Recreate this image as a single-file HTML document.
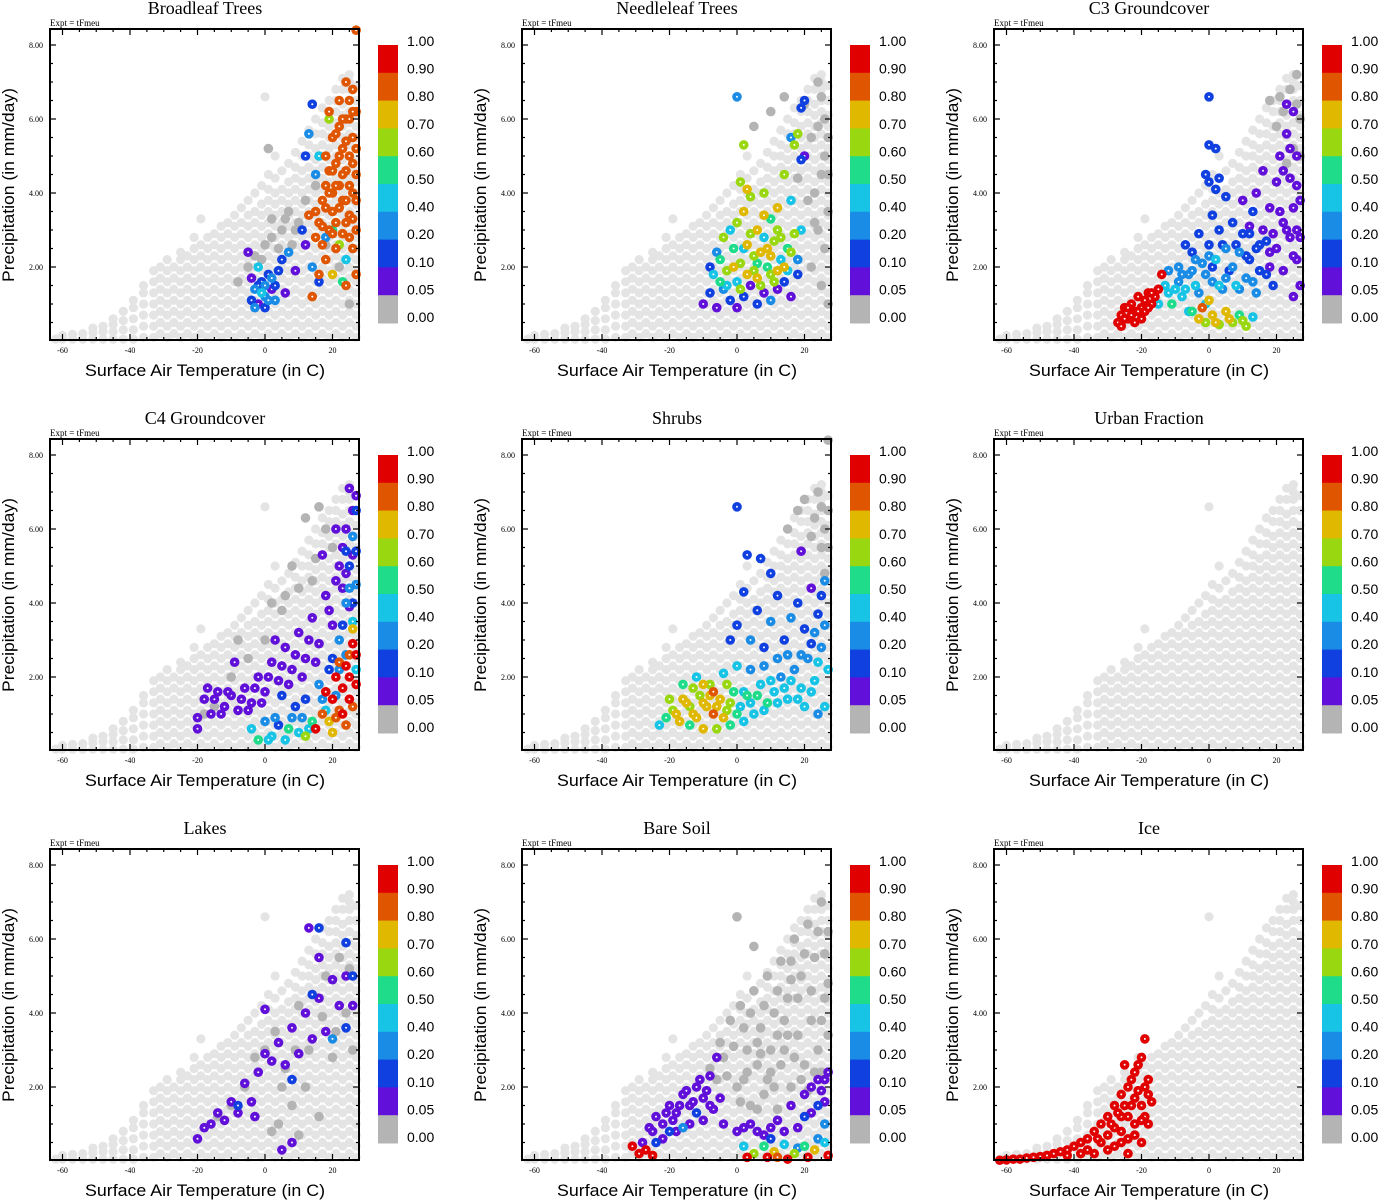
<!DOCTYPE html>
<html><head><meta charset="utf-8"><style>
html,body{margin:0;padding:0;background:#fff;}
svg{display:block;}
</style></head><body>
<svg id="chart" width="1378" height="1200" xmlns="http://www.w3.org/2000/svg"></svg>
<script>
const panelTitles=["Broadleaf Trees","Needleleaf Trees","C3 Groundcover","C4 Groundcover","Shrubs","Urban Fraction","Lakes","Bare Soil","Ice"];
const xTicks=[-60,-40,-20,0,20];
const yTicks=[2,4,6,8];
const yTickLabels=["2.00","4.00","6.00","8.00"];
const cbLabels=["1.00","0.90","0.80","0.70","0.60","0.50","0.40","0.20","0.10","0.05","0.00"];
const cbColors=["#e00000","#e05500","#e0b800","#99d810","#1fdc8a","#18c4e6","#1a8ce6","#1040e0","#6010d8","#b4b4b4"];
const binEdges=[0.05,0.1,0.2,0.4,0.5,0.6,0.7,0.8,0.9];
const bgCols=[
[-62,[0.05]],[-60,[0.05,0.15]],[-57,[0.05,0.18]],[-54,[0.05,0.2]],[-51,[0.05,0.22,0.35]],[-48,[0.05,0.25,0.4]],
[-45,[0.05,0.25,0.45,0.6]],[-42,[0.05,0.3,0.55,0.8]],[-39,[0.05,0.3,0.6,0.9,1.1]],[-36,[0.1,0.4,0.7,1.0,1.3,1.5]],
[-33,[0.1,0.4,0.7,1.0,1.3,1.6,1.9]],[-31,[0.2,0.5,0.8,1.1,1.4,1.7,2.0]],[-29,[0.1,0.4,0.7,1.0,1.3,1.6,1.9,2.2]],
[-27,[0.2,0.5,0.8,1.1,1.4,1.7,2.0]],[-25,[0.1,0.4,0.7,1.0,1.3,1.6,1.9,2.2,2.4]],[-23,[0.2,0.5,0.8,1.1,1.4,1.7,2.0,2.3]],
[-21,[0.1,0.4,0.7,1.0,1.3,1.6,1.9,2.2,2.5,2.8]],[-19,[0.2,0.5,0.8,1.1,1.4,1.7,2.0,2.3,2.6,3.3]],
[-17,[0.1,0.4,0.7,1.0,1.3,1.6,1.9,2.2,2.5,2.8]],[-15,[0.2,0.5,0.8,1.1,1.4,1.7,2.0,2.3,2.6,2.9]],
[-13,[0.1,0.4,0.7,1.0,1.3,1.6,1.9,2.2,2.5,2.8,3.1]],[-11,[0.2,0.5,0.8,1.1,1.4,1.7,2.0,2.3,2.6,2.9,3.2]],
[-9,[0.1,0.4,0.7,1.0,1.3,1.6,1.9,2.2,2.5,2.8,3.1,3.4]],[-7,[0.2,0.5,0.8,1.1,1.4,1.7,2.0,2.3,2.6,2.9,3.2,3.6]],
[-5,[0.1,0.4,0.7,1.0,1.3,1.6,1.9,2.2,2.5,2.8,3.1,3.4,3.8]],[-3,[0.2,0.5,0.8,1.1,1.4,1.7,2.0,2.3,2.6,2.9,3.2,3.5,4.0]],
[-1,[0.1,0.4,0.7,1.0,1.3,1.6,1.9,2.2,2.5,2.8,3.1,3.4,3.7,4.2]],[0,[6.6]],
[1,[0.2,0.5,0.8,1.1,1.4,1.7,2.0,2.3,2.6,2.9,3.2,3.5,3.8,4.1,4.5]],
[3,[0.1,0.4,0.7,1.0,1.3,1.6,1.9,2.2,2.5,2.8,3.1,3.4,3.7,4.0,4.4,5.0]],
[5,[0.2,0.5,0.8,1.1,1.4,1.7,2.0,2.3,2.6,2.9,3.2,3.5,3.8,4.1,4.6]],
[7,[0.1,0.4,0.7,1.0,1.3,1.6,1.9,2.2,2.5,2.8,3.1,3.4,3.7,4.0,4.3,4.8]],
[9,[0.2,0.5,0.8,1.1,1.4,1.7,2.0,2.3,2.6,2.9,3.2,3.5,3.8,4.1,4.4,4.7,5.1]],
[11,[0.1,0.4,0.7,1.0,1.3,1.6,1.9,2.2,2.5,2.8,3.1,3.4,3.7,4.0,4.3,4.6,5.0,5.4]],
[13,[0.2,0.5,0.8,1.1,1.4,1.7,2.0,2.3,2.6,2.9,3.2,3.5,3.8,4.1,4.4,4.7,5.0,5.3,5.7]],
[15,[0.1,0.4,0.7,1.0,1.3,1.6,1.9,2.2,2.5,2.8,3.1,3.4,3.7,4.0,4.3,4.6,4.9,5.2,5.6,6.0]],
[17,[0.2,0.5,0.8,1.1,1.4,1.7,2.0,2.3,2.6,2.9,3.2,3.5,3.8,4.1,4.4,4.7,5.0,5.3,5.6,5.9,6.3]],
[19,[0.1,0.4,0.7,1.0,1.3,1.6,1.9,2.2,2.5,2.8,3.1,3.4,3.7,4.0,4.3,4.6,4.9,5.2,5.5,5.8,6.2,6.5]],
[21,[0.2,0.5,0.8,1.1,1.4,1.7,2.0,2.3,2.6,2.9,3.2,3.5,3.8,4.1,4.4,4.7,5.0,5.3,5.6,5.9,6.2,6.5,6.8]],
[23,[0.1,0.4,0.7,1.0,1.3,1.6,1.9,2.2,2.5,2.8,3.1,3.4,3.7,4.0,4.3,4.6,4.9,5.2,5.5,5.8,6.1,6.4,6.8,7.1]],
[25,[0.2,0.5,0.8,1.1,1.4,1.7,2.0,2.3,2.6,2.9,3.2,3.5,3.8,4.1,4.4,4.7,5.0,5.3,5.6,5.9,6.2,6.5,6.8,7.0,7.2]],
[27,[0.1,0.4,0.7,1.0,1.3,1.6,1.9,2.2,2.5,2.8,3.1,3.4,3.7,4.0,4.3,4.6,4.9,5.2,5.5,5.8,6.1,6.5,6.9]]
];
const blPts=[[-5,2.0,0],[-3,2.3,0],[0,2.6,0],[2,2.8,0],[5,3.0,0],[7,3.5,0],[10,3.2,0],[12,3.8,0],[15,4.2,0],[1,5.2,0],[2,3.3,0],[-8,1.6,0],[8,2.6,0],[18,2.6,0],[22,2.0,0],[25,1.0,0],[4,2.5,0],[9,3.0,0],[6,3.3,0],[-1,2.2,0],
[-4,1.1,0.1],[-3,1.4,0.2],[-2,1.0,0.05],[-1,1.6,0.1],[0,1.2,0.2],[1,1.8,0.1],[2,1.4,0.05],[3,1.1,0.2],[4,1.9,0.1],[-4,1.7,0.05],[5,2.2,0.1],[7,2.4,0.2],[9,1.9,0.05],[-2,2.0,0.4],[0,0.9,0.1],[6,1.3,0.05],[-5,2.4,0.05],[-3,0.9,0.2],[-1,1.3,0.4],[1,1.1,0.2],[2,1.7,0.2],[3,1.5,0.1],[-2,1.5,0.1],[0,1.5,0.2],
[12,5.0,0.1],[14,6.4,0.1],[13,5.6,0.2],[16,5.0,0.4],[15,4.5,0.2],[11,3.0,0.1],[12,2.6,0.05],[14,2.0,0.2],[16,1.6,0.1],[18,2.8,0.2],[20,3.0,0.5],[22,2.6,0.6],[24,2.2,0.4],[20,1.8,0.7],[23,1.6,0.5],[19,6.0,0.6],
[14,1.2,0.8],[15,3.5,0.8],[16,3.2,0.8],[17,3.8,0.8],[18,4.2,0.8],[18,5.0,0.8],[19,4.6,0.8],[19,3.0,0.8],[20,3.5,0.8],[20,4.0,0.8],[20,5.5,0.8],[21,4.8,0.8],[21,3.2,0.8],[22,4.2,0.8],[22,5.8,0.8],[22,6.5,0.8],[23,3.8,0.8],[23,5.2,0.8],[24,4.6,0.8],[24,6.0,0.8],[24,7.0,0.8],[25,3.4,0.8],[25,5.0,0.8],[25,6.5,0.8],[26,4.0,0.8],[26,5.5,0.8],[26,6.8,0.8],[27,3.0,0.8],[27,4.5,0.8],[27,8.4,0.8],[17,2.6,0.8],[18,2.2,0.8],[21,2.5,0.8],[23,2.9,0.8],[15,2.8,0.8],[16,1.8,0.8],[26,2.5,0.8],[24,1.5,0.8],[27,1.8,0.8],[13,3.4,0.8],[19,6.2,0.8],[25,6.0,0.8],[20,2.9,0.8],[22,3.6,0.8],
[21,4.2,0.8],[23,4.5,0.8],[24,5.4,0.8],[25,4.2,0.8],[26,4.8,0.8],[27,5.2,0.8],[27,6.2,0.8],[26,3.3,0.8],[24,3.8,0.8],[23,6.0,0.8],[22,5.0,0.8],[21,5.6,0.8],[19,4.0,0.8],[18,3.6,0.8],[17,3.1,0.8],[20,4.6,0.8],[25,2.8,0.8],[26,6.2,0.8],[27,3.8,0.8],[24,3.2,0.8]];
const nlPts=[[5,5.8,0],[10,6.2,0],[14,6.6,0],[20,6.4,0],[22,5.5,0],[24,7.0,0],[26,6.0,0],[25,4.5,0],[23,4.0,0],[27,3.5,0],[26,2.5,0],[24,3.0,0],[20,5.0,0],[18,4.4,0],[27,5.5,0],[22,2.0,0],[25,1.5,0],[27,1.0,0],[26,5.0,0],[24,5.8,0],[25,6.6,0],[27,4.5,0],[23,3.2,0],[21,3.8,0],
[-10,1.0,0.05],[-8,1.3,0.1],[-6,0.9,0.05],[-4,1.4,0.2],[-2,1.1,0.1],[0,0.9,0.05],[2,1.2,0.1],[4,1.5,0.05],[6,1.0,0.1],[8,1.3,0.05],[10,1.1,0.2],[12,1.4,0.05],[14,1.6,0.1],[16,1.2,0.05],[18,1.8,0.1],[-7,1.8,0.4],[-5,2.2,0.5],[-3,1.9,0.6],[-1,2.5,0.5],[1,2.1,0.6],[3,2.6,0.7],[5,1.9,0.6],[7,2.4,0.7],[9,2.0,0.5],[11,2.7,0.6],[13,2.2,0.4],[15,2.5,0.5],[17,2.9,0.6],[19,3.0,0.4],[-4,2.8,0.6],[0,3.2,0.6],[2,3.5,0.7],[4,3.9,0.6],[6,3.0,0.7],[8,4.0,0.6],[10,3.3,0.5],[12,3.6,0.7],[14,4.5,0.6],[16,3.8,0.4],[18,2.2,0.2],[-6,2.4,0.2],[-8,2.0,0.1],[0,1.6,0.4],[6,1.7,0.7],[10,1.8,0.6],[14,2.0,0.7],[2,5.3,0.6],[3,4.1,0.7],[1,4.3,0.6],[0,6.6,0.2],[17,5.3,0.6],[18,5.6,0.6],[19,6.3,0.1],[20,6.5,0.1],[19,4.9,0.1],[20,5.0,0.05],[16,5.5,0.2],[-2,3.0,0.4],[8,2.8,0.4],[12,1.9,0.7],
[-3,1.5,0.4],[1,1.4,0.6],[3,1.8,0.7],[5,2.3,0.6],[7,1.5,0.6],[9,2.5,0.7],[11,1.6,0.6],[13,2.8,0.6],[15,1.9,0.4],[-1,2.0,0.7],[4,2.9,0.6],[8,3.4,0.7],[-5,1.6,0.5],[6,2.1,0.5],[10,2.3,0.7],[16,2.4,0.6],[2,2.5,0.4],[12,3.0,0.6]];
const c3Pts=[[18,6.5,0],[20,5.8,0],[22,6.2,0],[24,6.8,0],[26,7.2,0],[27,6.0,0],[25,5.2,0],[23,4.8,0],[21,6.6,0],[27,5.0,0],[26,6.4,0],
[-27,0.5,0.9],[-26,0.7,0.9],[-25,0.9,0.9],[-24,0.6,0.9],[-23,1.0,0.9],[-22,0.8,0.9],[-21,1.2,0.9],[-20,0.9,0.9],[-19,1.1,0.9],[-18,1.3,0.9],[-17,1.0,0.9],[-16,1.2,0.9],[-15,1.4,0.9],[-14,1.8,0.9],[-24,0.9,0.9],[-22,0.5,0.9],[-20,0.6,0.9],[-26,0.4,0.9],[-23,0.7,0.9],[-21,0.8,0.9],[-19,0.8,0.9],[-17,1.3,0.9],[-18,0.9,0.9],[-25,0.6,0.9],
[-15,1.0,0.4],[-13,1.5,0.4],[-12,1.9,0.2],[-10,1.4,0.4],[-9,2.0,0.2],[-8,1.2,0.4],[-6,1.8,0.2],[-5,2.4,0.1],[-4,1.5,0.4],[-2,2.1,0.2],[-1,1.0,0.4],[0,2.6,0.1],[1,1.6,0.2],[2,2.2,0.4],[3,3.0,0.1],[4,1.4,0.2],[5,2.5,0.2],[6,1.9,0.1],[7,3.2,0.1],[8,1.5,0.4],[9,2.4,0.2],[10,2.9,0.1],[11,1.7,0.2],[12,2.2,0.1],[13,3.5,0.1],[14,1.3,0.2],[15,2.6,0.1],[16,3.0,0.05],[17,1.8,0.1],[18,2.4,0.05],[19,1.5,0.1],[-7,2.6,0.1],[-3,2.9,0.1],[1,3.4,0.1],[5,3.9,0.1],[-11,1.0,0.5],[-6,0.8,0.4],
[-12,1.3,0.4],[-9,1.6,0.2],[-7,1.4,0.4],[-5,1.9,0.2],[-3,1.3,0.2],[-1,1.8,0.2],[1,2.0,0.1],[3,1.5,0.4],[5,1.7,0.2],[7,2.0,0.2],[9,1.4,0.2],[11,2.3,0.1],[13,1.6,0.2],[15,1.9,0.1],[17,2.7,0.1],[-4,2.2,0.2],[0,2.3,0.2],[4,2.6,0.1],[8,2.6,0.1],[12,2.9,0.1],[14,2.5,0.1],[-8,1.8,0.2],
[-5,0.8,0.5],[-3,0.6,0.7],[-1,0.5,0.6],[1,0.7,0.7],[3,0.45,0.6],[5,0.8,0.7],[7,0.5,0.6],[9,0.7,0.5],[11,0.4,0.6],[13,0.65,0.4],[-2,0.9,0.8],[0,1.1,0.7],[2,0.5,0.7],[6,0.6,0.7],[10,0.55,0.6],
[10,3.8,0.05],[12,3.1,0.05],[14,4.0,0.05],[16,4.6,0.05],[18,3.6,0.05],[20,4.3,0.05],[21,5.0,0.05],[22,3.2,0.05],[23,5.6,0.05],[24,4.4,0.05],[25,6.2,0.05],[26,5.0,0.05],[27,3.8,0.05],[20,2.5,0.05],[22,1.9,0.05],[24,2.8,0.05],[26,2.2,0.05],[27,1.5,0.05],[25,1.2,0.05],[23,6.4,0.05],
[21,3.5,0.05],[23,3.0,0.05],[25,3.6,0.05],[26,4.2,0.05],[24,5.2,0.05],[22,4.6,0.05],[19,2.9,0.05],[27,2.8,0.05],[26,3.0,0.05],[25,2.3,0.05],[18,2.0,0.05],
[0,6.6,0.1],[0,5.3,0.1],[2,5.2,0.1],[0,4.3,0.1],[2,4.1,0.1],[3,4.4,0.1],[-1,4.5,0.1]];
const c4Pts=[[-15,1.2,0],[-10,2.0,0],[-5,2.5,0],[0,3.0,0],[5,3.8,0],[10,4.4,0],[15,5.2,0],[18,6.0,0],[20,5.5,0],[-8,3.0,0],[2,4.0,0],[12,6.3,0],[8,5.0,0],[-18,1.0,0],[16,6.6,0],[14,4.6,0],[6,4.2,0],
[-20,0.9,0.05],[-18,1.4,0.05],[-16,1.0,0.05],[-14,1.6,0.05],[-12,1.2,0.05],[-10,1.5,0.05],[-8,1.1,0.05],[-6,1.7,0.05],[-4,1.3,0.05],[-2,2.0,0.05],[0,1.6,0.05],[2,2.4,0.05],[4,1.9,0.05],[6,2.8,0.05],[8,2.2,0.05],[10,3.2,0.05],[12,2.5,0.05],[14,3.6,0.05],[16,2.9,0.05],[18,4.2,0.05],[20,3.4,0.05],[22,5.0,0.05],[24,6.0,0.05],[25,7.1,0.05],[26,6.5,0.05],[23,4.4,0.05],[-20,0.6,0.05],[-17,1.7,0.05],[-9,2.4,0.05],[3,3.0,0.05],[17,5.3,0.05],[21,6.0,0.05],
[-15,1.4,0.05],[-13,1.0,0.05],[-11,1.6,0.05],[-7,1.4,0.05],[-5,1.1,0.05],[-3,1.7,0.05],[-1,1.3,0.05],[1,2.0,0.05],[5,2.3,0.05],[7,1.8,0.05],[9,2.6,0.05],[11,2.0,0.05],[13,3.0,0.05],[15,2.4,0.05],[19,3.8,0.05],[21,4.6,0.05],[23,5.5,0.05],[24,4.8,0.05],[26,5.3,0.05],[27,6.9,0.05],[25,3.9,0.05],
[0,0.8,0.2],[2,0.4,0.4],[4,0.7,0.1],[6,0.3,0.4],[8,0.9,0.2],[10,0.5,0.4],[12,1.4,0.1],[14,0.8,0.5],[16,1.8,0.2],[18,1.1,0.4],[20,2.5,0.1],[22,3.0,0.2],[24,4.0,0.2],[25,5.0,0.1],[26,3.5,0.4],[27,4.5,0.2],[26,5.8,0.2],[24,2.6,0.2],[27,2.2,0.4],[21,1.5,0.2],[-4,0.6,0.4],[-2,0.3,0.5],[5,1.5,0.1],[27,6.5,0.1],
[23,3.4,0.1],[25,4.4,0.2],[26,4.0,0.1],[27,5.4,0.1],[24,5.4,0.1],[22,2.2,0.2],[19,2.2,0.1],[17,1.4,0.2],[13,0.6,0.4],[9,1.2,0.1],[1,0.3,0.4],[3,0.9,0.2],[7,0.6,0.5],[11,0.9,0.2],
[15,0.6,0.9],[17,1.0,0.8],[18,1.6,0.9],[19,0.8,0.7],[20,1.4,0.9],[21,2.0,0.9],[22,1.1,0.8],[23,1.7,0.9],[24,2.3,0.9],[25,1.4,0.9],[26,2.9,0.9],[27,1.8,0.9],[24,0.7,0.8],[26,3.3,0.7],[22,2.4,0.8],[25,2.6,0.8],[20,0.5,0.7],[12,0.4,0.6],[23,1.0,0.9],[25,2.0,0.9],[26,1.2,0.8],[27,2.6,0.9],[21,0.9,0.8]];
const shPts=[[15,6.0,0],[18,6.5,0],[20,6.8,0],[22,5.8,0],[24,7.0,0],[25,5.5,0],[27,6.5,0],[26,4.8,0],[23,6.3,0],[27,8.4,0],[26,6.0,0],[25,6.6,0],[27,5.5,0],
[-23,0.7,0.4],[-21,0.9,0.5],[-19,1.1,0.6],[-17,0.8,0.7],[-15,1.3,0.7],[-13,1.0,0.7],[-11,1.5,0.6],[-9,1.2,0.7],[-7,1.0,0.8],[-5,1.4,0.7],[-3,1.1,0.6],[-1,1.6,0.5],[1,1.2,0.4],[3,1.5,0.5],[5,1.0,0.4],[7,1.8,0.4],[9,1.3,0.5],[11,1.6,0.4],[13,2.0,0.2],[15,1.4,0.4],[17,2.2,0.2],[19,1.7,0.4],[21,2.5,0.2],[23,1.9,0.4],[25,2.8,0.2],[27,2.2,0.4],[-20,1.4,0.6],[-16,1.8,0.5],[-12,2.0,0.4],[-8,1.8,0.6],[-4,2.1,0.4],[0,2.3,0.4],[-14,0.7,0.5],[-10,0.6,0.7],[-6,0.6,0.6],[-2,0.7,0.5],[2,0.8,0.4],[26,1.2,0.4],[24,1.0,0.2],[20,1.2,0.4],[-10,1.8,0.7],
[-18,1.0,0.7],[-16,1.4,0.7],[-14,1.2,0.6],[-12,0.9,0.7],[-10,1.3,0.7],[-8,1.5,0.7],[-6,1.2,0.7],[-4,0.9,0.7],[-2,1.3,0.6],[0,1.0,0.5],[2,1.6,0.4],[4,1.3,0.4],[6,1.5,0.5],[8,1.1,0.4],[10,1.9,0.4],[12,1.3,0.4],[14,1.7,0.4],[16,1.9,0.4],[18,1.4,0.4],[22,1.6,0.4],[24,2.4,0.4],[-13,1.7,0.6],[-7,1.6,0.8],[-3,1.8,0.6],
[-2,3.0,0.1],[0,3.4,0.1],[2,4.3,0.1],[4,3.0,0.2],[6,3.8,0.1],[8,2.8,0.1],[10,3.5,0.2],[12,4.2,0.1],[14,3.0,0.1],[16,3.6,0.2],[18,4.0,0.1],[20,3.3,0.1],[22,4.4,0.05],[24,3.7,0.1],[26,4.6,0.2],[0,6.6,0.1],[3,5.3,0.1],[7,5.2,0.1],[19,5.4,0.05],[10,4.8,0.1],[22,2.9,0.1],
[15,2.6,0.2],[19,2.6,0.2],[23,3.2,0.2],[26,3.4,0.2],[12,2.5,0.2],[8,2.3,0.2],[4,2.2,0.2],[25,4.2,0.1]];
const urPts=[];
const lkPts=[[-10,1.5,0],[-6,2.0,0],[-3,2.8,0],[0,3.0,0],[3,3.5,0],[6,2.5,0],[10,4.2,0],[14,4.5,0],[18,5.0,0],[22,5.5,0],[24,4.0,0],[26,3.0,0],[20,2.8,0],[12,2.0,0],[-14,1.2,0],[8,1.5,0],[16,1.2,0],[2,0.8,0],[5,2.0,0],[9,3.0,0],[13,3.0,0],[17,3.9,0],[21,3.5,0],[25,5.2,0],[4,1.0,0],[10,0.7,0],
[-20,0.6,0.05],[-18,0.9,0.05],[-16,1.0,0.05],[-14,1.3,0.05],[-12,1.1,0.05],[-10,1.6,0.05],[-8,1.3,0.05],[-6,2.1,0.05],[-4,1.6,0.05],[-2,2.4,0.05],[0,2.9,0.05],[2,2.7,0.05],[4,3.2,0.05],[6,2.6,0.05],[8,3.6,0.05],[10,2.9,0.05],[12,4.0,0.05],[14,3.3,0.05],[16,4.4,0.05],[18,3.5,0.05],[20,4.9,0.05],[22,4.2,0.05],[24,5.0,0.05],[13,6.3,0.05],[0,4.1,0.05],[-3,1.2,0.05],[5,0.3,0.05],[8,0.5,0.05],[16,5.5,0.05],[26,4.2,0.05],
[16,6.3,0.1],[24,5.9,0.1],[26,5.0,0.1],[14,4.5,0.1],[-8,1.5,0.1],[8,2.2,0.1],[20,3.3,0.2],[24,3.6,0.1]];
const bsPts=[[-8,2.5,0],[-5,3.2,0],[-2,3.8,0],[0,6.6,0],[1,4.2,0],[3,3.0,0],[5,4.6,0],[7,3.6,0],[9,5.0,0],[11,4.0,0],[13,5.4,0],[15,4.4,0],[17,6.0,0],[19,5.0,0],[21,6.4,0],[23,5.5,0],[25,7.0,0],[27,6.2,0],[2,2.2,0],[6,2.6,0],[10,2.4,0],[14,3.0,0],[18,3.4,0],[22,3.8,0],[26,4.4,0],[4,1.5,0],[8,1.8,0],[12,1.4,0],[16,2.0,0],[20,2.6,0],[24,3.0,0],[0,2.0,0],[5,5.8,0],[16,4.9,0],[12,3.4,0],
[-4,2.8,0],[-1,3.1,0],[2,3.6,0],[4,4.0,0],[6,3.2,0],[8,4.2,0],[10,3.0,0],[12,4.6,0],[14,3.8,0],[16,5.4,0],[18,4.4,0],[20,5.6,0],[22,4.6,0],[24,6.2,0],[26,5.6,0],[27,4.8,0],[25,3.8,0],[23,2.4,0],[21,1.9,0],[19,2.2,0],[17,2.8,0],[15,3.4,0],[13,2.6,0],[11,2.0,0],[9,2.2,0],[7,2.9,0],[3,2.4,0],[-3,2.3,0],[-6,2.2,0],[1,1.6,0],[6,1.4,0],[27,3.4,0],[25,2.4,0],
[-28,0.5,0.05],[-26,0.9,0.05],[-24,1.2,0.05],[-22,1.0,0.05],[-20,1.5,0.05],[-18,1.3,0.05],[-16,1.8,0.05],[-14,1.5,0.05],[-12,2.0,0.05],[-10,1.7,0.05],[-8,2.3,0.05],[-7,1.4,0.05],[-6,2.8,0.05],[-22,0.6,0.05],[-18,0.8,0.05],[-14,1.0,0.05],[-4,1.0,0.05],[0,0.8,0.05],[4,1.0,0.05],[8,0.7,0.05],[12,1.1,0.05],[16,1.5,0.05],[18,0.9,0.05],[20,1.8,0.05],[22,1.3,0.05],[24,2.2,0.05],[26,1.6,0.05],[27,2.4,0.05],[14,0.8,0.05],[-10,1.1,0.05],
[-25,0.8,0.05],[-21,1.3,0.05],[-17,1.5,0.05],[-13,1.6,0.05],[-11,2.2,0.05],[-9,1.9,0.05],[-5,1.7,0.05],[-8,1.5,0.05],[-15,1.9,0.05],[-19,1.1,0.05],[6,0.8,0.05],[10,0.9,0.05],[22,2.0,0.05],[25,1.9,0.05],[26,2.2,0.05],[2,0.9,0.05],
[-24,0.5,0.1],[-20,0.8,0.1],[-16,0.9,0.2],[20,1.2,0.1],[24,1.5,0.1],[26,1.0,0.2],[10,0.6,0.1],[-12,1.3,0.1],
[2,0.4,0.4],[5,0.2,0.6],[8,0.4,0.5],[11,0.25,0.7],[14,0.45,0.4],[17,0.2,0.6],[20,0.4,0.5],[23,0.3,0.7],[26,0.5,0.4],[3,0.1,0.9],[9,0.1,0.9],[15,0.05,0.9],[21,0.1,0.9],[27,0.15,0.9],[12,0.1,0.8],[18,0.35,0.2],[24,0.6,0.2],
[-31,0.4,0.9],[-29,0.2,0.9],[-27,0.3,0.9],[-25,0.15,0.9]];
const icPts=[[-62,0.02,0.9],[-60,0.03,0.9],[-58,0.05,0.9],[-56,0.05,0.9],[-54,0.08,0.9],[-52,0.1,0.9],[-50,0.12,0.9],[-48,0.15,0.9],[-46,0.2,0.9],[-44,0.25,0.9],[-42,0.3,0.9],[-40,0.4,0.9],[-38,0.5,0.9],[-36,0.6,0.9],[-34,0.8,0.9],[-32,1.0,0.9],[-30,1.2,0.9],[-28,1.5,0.9],[-26,1.8,0.9],[-24,2.0,0.9],[-22,2.4,0.9],[-20,2.8,0.9],[-19,3.3,0.9],[-18,2.2,0.9],[-20,1.5,0.9],[-22,1.0,0.9],[-24,0.6,0.9],[-26,0.5,0.9],[-28,0.4,0.9],[-30,0.3,0.9],[-34,0.2,0.9],[-38,0.2,0.9],[-26,1.2,0.9],[-23,1.5,0.9],[-21,1.9,0.9],[-19,1.2,0.9],[-17,1.6,0.9],[-24,0.2,0.9],[-20,0.5,0.9],[-28,0.9,0.9],[-32,0.5,0.9],[-36,0.3,0.9],[-42,0.15,0.9],[-25,2.6,0.9],
[-29,1.0,0.9],[-27,1.3,0.9],[-25,1.5,0.9],[-23,2.2,0.9],[-21,2.6,0.9],[-19,2.0,0.9],[-18,1.0,0.9],[-22,1.7,0.9],[-24,1.2,0.9],[-26,0.8,0.9],[-30,0.7,0.9],[-33,0.6,0.9],[-22,0.7,0.9],[-20,1.1,0.9],[-18,1.8,0.9]];
const panelPts=[blPts,nlPts,c3Pts,c4Pts,shPts,urPts,lkPts,bsPts,icPts];

const NS="http://www.w3.org/2000/svg";
const svg=document.getElementById('chart');
function mk(tag,attrs,parent,txt){const e=document.createElementNS(NS,tag);for(const k in attrs)e.setAttribute(k,attrs[k]);if(txt!==undefined)e.textContent=txt;parent.appendChild(e);return e;}
function colorFor(v){let b=0;for(let i=0;i<binEdges.length;i++){if(v>=binEdges[i]-1e-9)b=i+1;}return cbColors[9-b];}
const slug=s=>s.toLowerCase().replace(/[^a-z0-9]+/g,'-');

panelTitles.forEach((title,idx)=>{
  const ox=(idx%3)*472, oy=Math.floor(idx/3)*410;
  const xS=t=>ox+265+t*3.375;
  const yS=p=>oy+341-p*37;
  const g=mk('g',{},svg);
  
  
  const tt=mk('text',{x:ox+205,y:oy+14,'text-anchor':'middle','font-family':'Liberation Serif, serif','font-size':18},g,title);
  
  
  const ex=mk('text',{x:ox+50,y:oy+26,'font-family':'Liberation Serif, serif','font-size':9},g,'Expt = tFmeu');
  
  
  const bg=mk('g',{},g);
  
  
  bgCols.forEach(c=>c[1].forEach(p=>{
    const ci=mk('circle',{cx:xS(c[0]),cy:yS(p),r:4.6,fill:'#e4e4e4'},bg);
    
    
  }));
  const pts=panelPts[idx].slice().sort((a,b)=>a[2]-b[2]);
  const pg=mk('g',{},g);
  
  
  pts.forEach(d=>{
    const col=colorFor(d[2]);
    const ci=mk('circle',{cx:xS(d[0]),cy:yS(d[1]),r:4.8,fill:col},pg);
    
    
    if(d[2]>0){mk('circle',{cx:xS(d[0]),cy:yS(d[1]),r:1.0,fill:'#fff'},pg);}
  });
  const fr=mk('rect',{x:ox+50,y:oy+29,width:309,height:311,fill:'none',stroke:'#000','stroke-width':2},g);
  
  
  for(let t=-60;t<=25;t+=5){
    const major=xTicks.includes(t), L=major?6:3;
    mk('line',{x1:xS(t),x2:xS(t),y1:oy+340,y2:oy+340-L,stroke:'#000','stroke-width':1.2},g);
    mk('line',{x1:xS(t),x2:xS(t),y1:oy+29,y2:oy+29+L,stroke:'#000','stroke-width':1.2},g);
  }
  xTicks.forEach(t=>{
    const tl=mk('text',{x:xS(t),y:oy+353,'text-anchor':'middle','font-family':'Liberation Serif, serif','font-size':8},g,String(t));
    
    
  });
  for(let p=0.5;p<=8.01;p+=0.5){
    const major=Math.abs(p-Math.round(p/2)*2)<1e-6, L=major?6:3;
    mk('line',{x1:ox+50,x2:ox+50+L,y1:yS(p),y2:yS(p),stroke:'#000','stroke-width':1.2},g);
    mk('line',{x1:ox+359,x2:ox+359-L,y1:yS(p),y2:yS(p),stroke:'#000','stroke-width':1.2},g);
  }
  yTicks.forEach((p,i)=>{
    const tl=mk('text',{x:ox+43,y:yS(p)+3,'text-anchor':'end','font-family':'Liberation Serif, serif','font-size':8},g,yTickLabels[i]);
    
    
  });
  const xt=mk('text',{x:ox+205,y:oy+376,'text-anchor':'middle','font-family':'Liberation Sans, sans-serif','font-size':17,textLength:240,lengthAdjust:'spacingAndGlyphs'},g,'Surface Air Temperature (in C)');
  
  
  const yt=mk('text',{x:0,y:0,'text-anchor':'middle','font-family':'Liberation Sans, sans-serif','font-size':17,textLength:194,lengthAdjust:'spacingAndGlyphs',transform:`translate(${ox+14},${oy+185}) rotate(-90)`},g,'Precipitation (in mm/day)');
  
  
  const cb=mk('g',{},g);
  
  
  cbColors.forEach((c,i)=>{
    const r=mk('rect',{x:ox+378,y:oy+45+i*27.8,width:20,height:28.3,fill:c},cb);
    
    
  });
  cbLabels.forEach((l,i)=>{
    const tl=mk('text',{x:ox+407,y:oy+46+i*27.6,'font-family':'Liberation Sans, sans-serif','font-size':14},cb,l);
    
    
  });
});
</script>
</body></html>
